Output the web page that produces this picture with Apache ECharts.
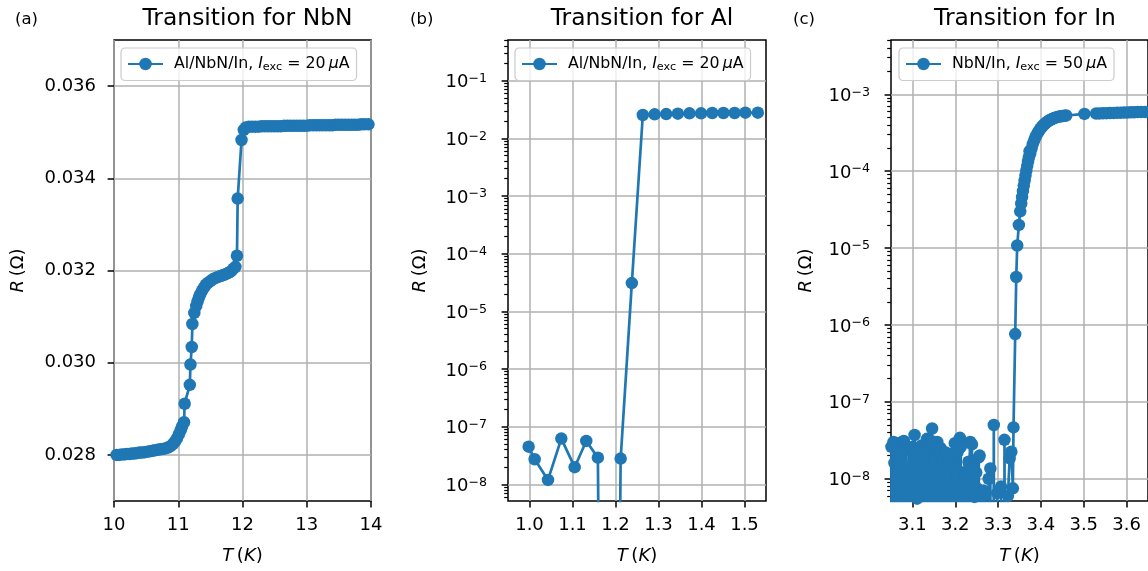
<!DOCTYPE html>
<html>
<head>
<meta charset="utf-8">
<title>Superconducting transitions</title>
<script src="https://cdn.jsdelivr.net/npm/echarts@6/dist/echarts.min.js"></script>
<style>
  html, body { margin: 0; padding: 0; background: #fff; }
  #chart { width: 1148px; height: 571px; }
</style>
</head>
<body>
<div id="chart"></div>
<script>
// (a) NbN, R in ohm vs T in K
const nbnT = [
  10.04, 10.08, 10.12, 10.16, 10.20, 10.24, 10.28, 10.32, 10.36, 10.40,
  10.44, 10.48, 10.52, 10.56, 10.60, 10.64, 10.68, 10.72, 10.76, 10.80,
  10.84, 10.88, 10.92, 10.95, 10.98, 11.01, 11.04, 11.06, 11.09, 11.10,
  11.18, 11.19, 11.21, 11.22, 11.25, 11.28, 11.30, 11.32, 11.34, 11.37,
  11.40, 11.43, 11.46, 11.50, 11.54, 11.58, 11.62, 11.66, 11.70, 11.74,
  11.78, 11.82, 11.86, 11.89, 11.914, 11.925, 11.985, 12.02, 12.05, 12.10,
  12.15, 12.20, 12.25, 12.30, 12.35, 12.40, 12.45, 12.50, 12.55, 12.60,
  12.65, 12.70, 12.75, 12.80, 12.85, 12.90, 12.95, 13.00, 13.05, 13.10,
  13.15, 13.20, 13.25, 13.30, 13.35, 13.40, 13.45, 13.50, 13.55, 13.60,
  13.65, 13.70, 13.75, 13.80, 13.85, 13.90, 13.96
]
const nbnR = [
  0.02800, 0.02800, 0.02801, 0.02801, 0.02802, 0.02802, 0.02803, 0.02803, 0.02804, 0.02805,
  0.02805, 0.02806, 0.02807, 0.02808, 0.02809, 0.02810, 0.02811, 0.02812, 0.02813, 0.02814,
  0.02816, 0.02819, 0.02824, 0.02829, 0.02836, 0.02845, 0.02854, 0.02862, 0.02871, 0.02911,
  0.02952, 0.02996, 0.03034, 0.03084, 0.03108, 0.03123, 0.03133, 0.03141, 0.03148, 0.03156,
  0.03163, 0.03169, 0.03173, 0.03177, 0.03181, 0.03184, 0.03186, 0.03188, 0.03190, 0.03192,
  0.03195, 0.03198, 0.03204, 0.03208, 0.03232, 0.03356, 0.03483, 0.03505, 0.03510, 0.03512,
  0.03512, 0.03512, 0.03512, 0.03513, 0.03513, 0.03513, 0.03513, 0.03513, 0.03513, 0.03513,
  0.03514, 0.03514, 0.03514, 0.03514, 0.03514, 0.03514, 0.03514, 0.03514, 0.03515, 0.03515,
  0.03515, 0.03515, 0.03515, 0.03515, 0.03515, 0.03515, 0.03516, 0.03516, 0.03516, 0.03516,
  0.03516, 0.03516, 0.03516, 0.03516, 0.03517, 0.03517, 0.03517
]

// (b) Al; 1e-30 marks a reading that fell below the log axis (non-positive)
const alT = [
  0.998, 1.012, 1.043, 1.074, 1.105, 1.132, 1.159, 1.185, 1.212, 1.238,
  1.2635, 1.291, 1.318, 1.345, 1.372, 1.399, 1.425, 1.451, 1.477, 1.502, 1.531
]
const alR = [
  4.5e-8, 2.72e-8, 1.19e-8, 6.2e-8, 1.98e-8, 5.65e-8, 2.9e-8, 1e-30, 2.79e-8, 3.09e-5,
  0.0254, 0.0261, 0.0264, 0.0268, 0.0272, 0.0272, 0.0275, 0.0275, 0.0275, 0.0279, 0.0279
]

// (c) In; 1e-30 marks a reading that fell below the log axis (non-positive)
const inT = [
  3.051, 3.054, 3.056, 3.058, 3.060, 3.062, 3.064, 3.066, 3.068, 3.070,
  3.072, 3.074, 3.076, 3.078, 3.080, 3.082, 3.084, 3.086, 3.088, 3.091,
  3.093, 3.095, 3.097, 3.099, 3.101, 3.103, 3.105, 3.107, 3.109, 3.111,
  3.113, 3.115, 3.117, 3.119, 3.121, 3.123, 3.125, 3.128, 3.130, 3.132,
  3.134, 3.136, 3.138, 3.140, 3.142, 3.144, 3.146, 3.148, 3.150, 3.152,
  3.154, 3.156, 3.158, 3.160, 3.162, 3.164, 3.166, 3.168, 3.170, 3.172,
  3.174, 3.176, 3.178, 3.180, 3.183, 3.185, 3.187, 3.189, 3.191, 3.193,
  3.195, 3.197, 3.199, 3.201, 3.203, 3.205, 3.207, 3.209, 3.211, 3.213,
  3.215, 3.217, 3.219, 3.221, 3.223, 3.225, 3.227, 3.229, 3.231, 3.233,
  3.235, 3.237, 3.239, 3.241, 3.243, 3.245, 3.247, 3.249, 3.251, 3.253,
  3.255, 3.257, 3.259, 3.262, 3.264, 3.266, 3.268, 3.270, 3.274, 3.278,
  3.282, 3.286, 3.290, 3.294, 3.298, 3.302, 3.307, 3.311, 3.315, 3.319,
  3.323, 3.327, 3.331, 3.3345, 3.336, 3.340, 3.3424, 3.3447, 3.3485, 3.3517,
  3.354, 3.356, 3.358, 3.360, 3.362, 3.364, 3.366, 3.368, 3.370, 3.372,
  3.3735, 3.375, 3.378, 3.381, 3.384, 3.387, 3.390, 3.393, 3.396, 3.399,
  3.402, 3.405, 3.408, 3.411, 3.414, 3.417, 3.420, 3.423, 3.426, 3.429,
  3.432, 3.435, 3.439, 3.443, 3.447, 3.451, 3.455, 3.459, 3.5016, 3.529,
  3.537, 3.545, 3.553, 3.561, 3.570, 3.578, 3.586, 3.594, 3.602, 3.610,
  3.618, 3.626, 3.634, 3.643
]
const inR = [
  2.6e-8, 1e-30, 3.0e-8, 1.6e-8, 1e-30, 2.9e-8, 1e-30, 2.4e-8, 2.0e-8, 1e-30,
  2.2e-8, 6.5e-9, 3.0e-8, 1e-30, 3.1e-8, 1e-30, 2.6e-8, 6.0e-9, 1e-30, 2.4e-8,
  1.2e-8, 1e-30, 2.5e-8, 1e-30, 2.6e-8, 2.1e-8, 3.7e-8, 1e-30, 2.2e-8, 5.5e-9,
  1e-30, 2.4e-8, 1.9e-8, 1e-30, 2.7e-8, 2.3e-8, 1e-30, 1.5e-8, 1e-30, 2.6e-8,
  3.3e-8, 1e-30, 2.9e-8, 1e-30, 2.0e-8, 3.1e-8, 4.5e-8, 1e-30, 2.8e-8, 1e-30,
  1.8e-8, 2.6e-8, 3.0e-8, 1e-30, 2.3e-8, 1e-30, 2.5e-8, 1.4e-8, 1.7e-8, 1e-30,
  2.0e-8, 1e-30, 2.2e-8, 1.3e-8, 7.1e-9, 1e-30, 1.6e-8, 1e-30, 1.9e-8, 2.1e-8,
  8.5e-9, 1e-30, 2.9e-8, 1e-30, 1.1e-8, 2.2e-8, 2.4e-8, 1e-30, 3.4e-8, 2.6e-8,
  1e-30, 1.2e-8, 1e-30, 8.5e-9, 1.1e-8, 1e-30, 9.1e-9, 1e-30, 1.66e-8, 1.5e-8,
  3.0e-8, 1e-30, 2.8e-8, 1e-30, 1.4e-8, 5.8e-9, 1e-30, 1.2e-8, 7.5e-9, 1e-30,
  1.9e-8, 2.0e-8, 1e-30, 6.0e-9, 1e-30, 7.0e-9, 1e-30, 6.2e-9, 1e-30, 1.0e-8,
  1.36e-8, 1e-30, 5.0e-8, 1e-30, 6.5e-9, 1e-30, 7.9e-9, 1e-30, 3.2e-8, 1e-30,
  6.0e-9, 1.84e-8, 2.24e-8, 7.5e-9, 4.65e-8, 7.6e-7, 4.2e-6, 1.08e-5, 2.0e-5, 3.0e-5,
  3.8e-5, 4.6e-5, 5.5e-5, 6.5e-5, 7.6e-5, 8.8e-5, 1.02e-4, 1.18e-4, 1.35e-4, 1.52e-4,
  1.82e-4, 1.70e-4, 1.95e-4, 2.25e-4, 2.50e-4, 2.75e-4, 2.97e-4, 3.18e-4, 3.38e-4, 3.57e-4,
  3.75e-4, 3.92e-4, 4.08e-4, 4.22e-4, 4.35e-4, 4.47e-4, 4.58e-4, 4.68e-4, 4.77e-4, 4.85e-4,
  4.93e-4, 5.00e-4, 5.07e-4, 5.13e-4, 5.18e-4, 5.22e-4, 5.26e-4, 5.30e-4, 5.55e-4, 5.62e-4,
  5.64e-4, 5.66e-4, 5.68e-4, 5.70e-4, 5.72e-4, 5.74e-4, 5.76e-4, 5.78e-4, 5.80e-4, 5.82e-4,
  5.84e-4, 5.86e-4, 5.88e-4, 5.90e-4
]

// tick labels
const nbnTicksX = [10, 11, 12, 13, 14]
const nbnTicksY = [0.028, 0.030, 0.032, 0.034, 0.036]
const alTicksX = [1.0, 1.1, 1.2, 1.3, 1.4, 1.5]
const alTicksY = [1e-8, 1e-7, 1e-6, 1e-5, 1e-4, 1e-3, 1e-2, 1e-1]
const inTicksX = [3.1, 3.2, 3.3, 3.4, 3.5, 3.6]
const inTicksY = [1e-8, 1e-7, 1e-6, 1e-5, 1e-4, 1e-3]

const titles = ['Transition for NbN', 'Transition for Al', 'Transition for In']
const panelTags = ['(a)', '(b)', '(c)']
const legendText = [
  'Al/NbN/In, {i|I}{sub|exc} = 20\u2009{i|\u03bc}A',
  'Al/NbN/In, {i|I}{sub|exc} = 20\u2009{i|\u03bc}A',
  'NbN/In, {i|I}{sub|exc} = 50\u2009{i|\u03bc}A'
]

const FONT = 'DejaVu Sans'
const BLUE = '#1f77b4'
const GRID_LINE = { show: true, lineStyle: { color: '#b0b0b0', width: 1.5 } }
const TICK_STYLE = { color: '#000', width: 1.5 }

const panels = [
  { left: 114, top: 40, width: 257, height: 461 },
  { left: 508, top: 40, width: 258, height: 461 },
  { left: 891, top: 40, width: 258, height: 461 }
]
const centers = [242.5, 637, 1020]

function pairs(xs, ys) {
  return xs.map((x, i) => [x, ys[i]])
}

// 2..9 x 10^n positions between lo and hi
function minorTicks(lo, hi) {
  const out = []
  for (let e = Math.floor(Math.log10(lo)); e <= Math.ceil(Math.log10(hi)); e++) {
    for (let m = 2; m <= 9; m++) {
      const v = m * Math.pow(10, e)
      if (v >= lo && v <= hi) out.push(v)
    }
  }
  return out
}

function powLabel(v) {
  const e = Math.round(Math.log10(v))
  return '10{sup|' + String(e).replace('-', '\u2212') + '}'
}

const italic = { fontStyle: 'italic', fontFamily: FONT, fontSize: 18, color: '#000' }

function xAxisFor(gridIndex, min, max, ticks, digits) {
  return {
    type: 'value',
    gridIndex,
    min,
    max,
    name: '{i|T}\u2009({i|K})',
    nameLocation: 'middle',
    nameGap: 46,
    nameTextStyle: { fontFamily: FONT, fontSize: 18, color: '#000', rich: { i: italic } },
    axisLine: { show: false },
    axisTick: { show: true, length: 6.4, lineStyle: TICK_STYLE, customValues: ticks },
    axisLabel: {
      customValues: ticks,
      formatter: v => v.toFixed(digits),
      margin: 15,
      fontFamily: FONT,
      fontSize: 18,
      color: '#000'
    },
    splitLine: GRID_LINE
  }
}

function yName(gap) {
  return {
    name: '{i|R}\u2009(\u03a9)',
    nameLocation: 'middle',
    nameRotate: 90,
    nameGap: gap,
    nameTextStyle: { fontFamily: FONT, fontSize: 18, color: '#000', rich: { i: italic } }
  }
}

function logAxis(gridIndex, min, max, ticks, gap) {
  return Object.assign({
    type: 'log',
    logBase: 10,
    gridIndex,
    min,
    max,
    axisLine: { show: false },
    axisTick: { show: true, length: 6.4, lineStyle: TICK_STYLE, customValues: ticks },
    axisLabel: {
      customValues: ticks,
      formatter: powLabel,
      margin: 21,
      padding: [4, 0, 0, 0],
      fontFamily: FONT,
      fontSize: 18,
      color: '#000',
      rich: { sup: { fontFamily: FONT, fontSize: 12.6, color: '#000', verticalAlign: 'bottom', padding: [0, 0, 8, 0] } }
    },
    splitLine: GRID_LINE
  }, yName(gap))
}

// an overlay grid on the same rect carries the short 2..9 ticks of a log axis
function minorAxis(gridIndex, min, max) {
  return {
    type: 'log',
    logBase: 10,
    gridIndex,
    min,
    max,
    axisLine: { show: false },
    axisTick: { show: true, length: 3.8, lineStyle: { color: '#000', width: 1.2 }, customValues: minorTicks(min, max) },
    axisLabel: { show: false },
    splitLine: { show: false }
  }
}

function hiddenX(gridIndex) {
  return { type: 'value', gridIndex, show: false, min: 0, max: 1 }
}

function lineSeries(name, xi, yi, data) {
  return {
    type: 'line',
    name,
    xAxisIndex: xi,
    yAxisIndex: yi,
    data,
    symbol: 'circle',
    symbolSize: 12.5,
    color: BLUE,
    itemStyle: { color: BLUE },
    lineStyle: { color: BLUE, width: 2.7 },
    clip: true,
    silent: true,
    animation: false
  }
}

const seriesNames = ['NbN', 'Al', 'In']

const chart = echarts.init(document.getElementById('chart'), null, { renderer: 'canvas' })

chart.setOption({
  animation: false,
  backgroundColor: '#fff',
  textStyle: { fontFamily: FONT },
  title: titles.map((t, i) => ({
    text: t,
    left: centers[i],
    top: 2,
    textAlign: 'center',
    textStyle: { fontFamily: FONT, fontSize: 23.4, fontWeight: 'normal', color: '#000' }
  })).concat(panelTags.map((t, i) => ({
    text: t,
    left: [10, 405, 788][i],
    top: 6,
    textStyle: { fontFamily: FONT, fontSize: 16.5, fontWeight: 'normal', color: '#000' }
  }))),
  legend: seriesNames.map((n, i) => ({
    data: [n],
    left: [121, 515, 899][i],
    top: 48,
    orient: 'vertical',
    itemWidth: 35,
    itemHeight: 15.6,
    padding: [8, 7, 8, 6],
    backgroundColor: 'rgba(255,255,255,0.8)',
    borderColor: '#cccccc',
    borderWidth: 1.2,
    borderRadius: 4,
    selectedMode: false,
    formatter: () => '{gap| }' + legendText[i],
    textStyle: {
      fontFamily: FONT,
      fontSize: 15.8,
      color: '#000',
      rich: {
        gap: { width: 6 },
        i: { fontStyle: 'italic', fontFamily: FONT, fontSize: 15.8, color: '#000' },
        sub: { fontFamily: FONT, fontSize: 11.2, color: '#000', padding: [6, 0, 0, 0] }
      }
    }
  })),
  grid: panels.map(g => Object.assign({
    show: true,
    borderColor: '#000',
    borderWidth: 1.5,
    backgroundColor: 'transparent',
    containLabel: false
  }, g)).concat([1, 2].map(i => Object.assign({ show: false, containLabel: false }, panels[i]))),
  xAxis: [
    Object.assign(xAxisFor(0, 10, 14, nbnTicksX, 0), { interval: 1 }),
    xAxisFor(1, 0.95, 1.55, alTicksX, 1),
    xAxisFor(2, 3.05, 3.65, inTicksX, 1),
    hiddenX(3),
    hiddenX(4)
  ],
  yAxis: [
    Object.assign({
      type: 'value',
      gridIndex: 0,
      min: 0.027,
      max: 0.037,
      axisLine: { show: false },
      axisTick: { show: true, length: 6.4, lineStyle: TICK_STYLE, customValues: nbnTicksY },
      axisLabel: {
        customValues: nbnTicksY,
        formatter: v => v.toFixed(3),
        margin: 18,
        fontFamily: FONT,
        fontSize: 18,
        color: '#000'
      },
      splitLine: GRID_LINE
    }, yName(87)),
    logAxis(1, 5.13e-9, 0.508, alTicksY, 79),
    logAxis(2, 5.13e-9, 5.08e-3, inTicksY, 76),
    minorAxis(3, 5.13e-9, 0.508),
    minorAxis(4, 5.13e-9, 5.08e-3)
  ],
  series: [
    lineSeries('NbN', 0, 0, pairs(nbnT, nbnR)),
    lineSeries('Al', 1, 1, pairs(alT, alR)),
    lineSeries('In', 2, 2, pairs(inT, inR))
  ]
})
</script>
</body>
</html>
